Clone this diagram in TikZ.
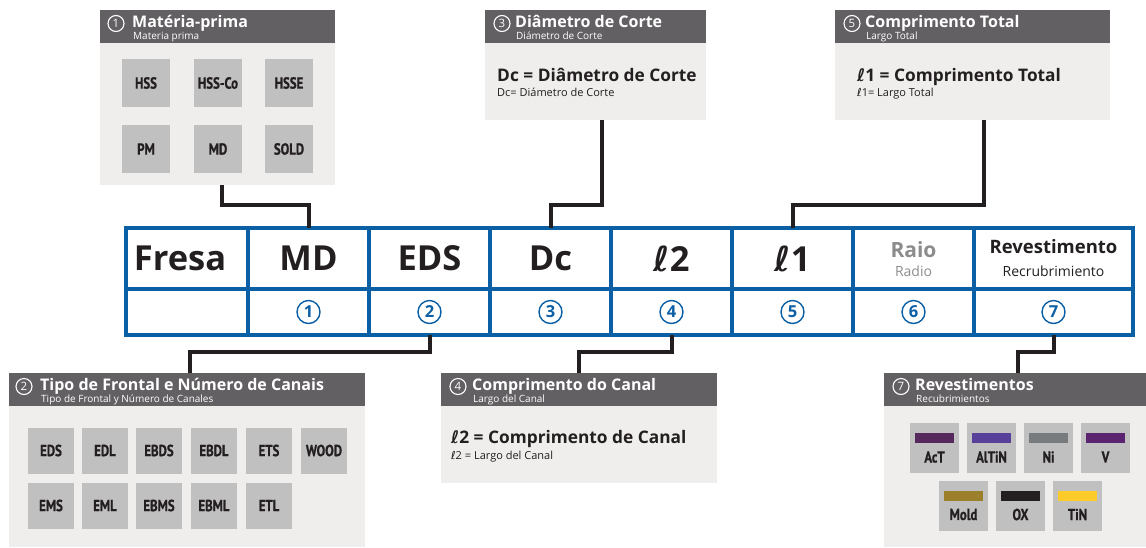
\documentclass[tikz,border=0pt]{standalone}
\usepackage{fontspec}
\setmainfont{Open Sans}
\newfontfamily\ellfont{DejaVu Sans}
\newfontfamily\condfont[FakeStretch=0.8, BoldFeatures={FakeBold=0.8}]{PT Sans}
\newcommand\myell{{\ellfont ℓ}}
\definecolor{tblue}{HTML}{0B5FA5}
\definecolor{hdr}{HTML}{636063}
\definecolor{pnl}{HTML}{EFEEEC}
\definecolor{sqg}{HTML}{C1C0C1}
\definecolor{ink}{HTML}{231F20}
\definecolor{raiog}{HTML}{8C8C8C}
\definecolor{cAcT}{HTML}{55295B}
\definecolor{cAlTiN}{HTML}{56409A}
\definecolor{cNi}{HTML}{787B7D}
\definecolor{cV}{HTML}{5C2371}
\definecolor{cMold}{HTML}{9C7F2B}
\definecolor{cOX}{HTML}{231F20}
\definecolor{cTiN}{HTML}{FECB2A}
\begin{document}
\begin{tikzpicture}[x=1pt,y=-1pt,
  panel/.style={fill=pnl, draw=none, inner sep=0, outer sep=0, rectangle, anchor=north west},
  hdrbar/.style={fill=hdr, inner sep=0, outer sep=0, minimum height=33pt, anchor=north},
  htitle/.style={text=white, font=\bfseries\fontsize{16}{17}\selectfont, anchor=base west, inner sep=0},
  hsub/.style={text=white, font=\fontsize{10}{11}\selectfont, anchor=base west, inner sep=0},
  hnum/.style={circle, draw=white, line width=1.1pt, minimum size=16pt, inner sep=0, text=white, font=\fontsize{11.5}{12}\selectfont},
  sq/.style={fill=sqg, inner sep=0, minimum width=48pt, minimum height=48pt, text=ink, font=\condfont\bfseries\fontsize{16}{16}\selectfont},
  sqb/.style={fill=sqg, inner sep=0, minimum width=46pt, minimum height=46pt, text=ink, font=\condfont\bfseries\fontsize{16}{16}\selectfont},
  sqc/.style={fill=sqg, inner sep=0, minimum width=49pt, minimum height=50pt},
  cbar/.style={inner sep=0, minimum width=39pt, minimum height=10pt, anchor=north},
  clabel/.style={text=ink, font=\condfont\bfseries\fontsize{16}{16}\selectfont, inner sep=0},
  ptmain/.style={text=ink, font=\bfseries\fontsize{17.3}{20}\selectfont, anchor=base west, inner sep=0},
  ptsub/.style={text=ink, font=\fontsize{11}{12}\selectfont, anchor=base west, inner sep=0},
  cell/.style={draw=tblue, line width=3.5pt, inner sep=0, outer sep=0, minimum height=61pt, text=ink, font=\bfseries\fontsize{34.5}{35}\selectfont},
  ncell/.style={draw=tblue, line width=3.5pt, inner sep=0, outer sep=0, minimum height=46pt},
  tnum/.style={circle, draw=tblue, line width=1.4pt, minimum size=23pt, inner sep=0, text=tblue, font=\bfseries\fontsize{16.5}{16.5}\selectfont},
  conn/.style={draw=ink, line width=4pt}
]
\useasboundingbox (0,0) rectangle (1146,547);

% ---------- Panel 1: Materia-prima ----------
\node[panel, minimum width=235pt, minimum height=175pt] (p1) at (100,10) {};
\node[hdrbar, minimum width=235pt] (h1) at (p1.north) {};
\node[hnum] (n1) at (116,23.5) {1};
\node[htitle] (t1a) at (132,27.5) {Matéria-prima};
\node[hsub] (t1b) at (133,39) {Materia prima};
\node[sq] (s11) at (146,83) {HSS};
\node[sq] (s12) at (218,83) {HSS-Co};
\node[sq] (s13) at (289,83) {HSSE};
\node[sq] (s14) at (146,149) {PM};
\node[sq] (s15) at (218,149) {MD};
\node[sq] (s16) at (289,149) {SOLD};

% ---------- Panel 3: Diametro de Corte ----------
\node[panel, minimum width=221pt, minimum height=110pt] (p3) at (485,10) {};
\node[hdrbar, minimum width=221pt] (h3) at (p3.north) {};
\node[hnum] (n3) at (502,23.5) {3};
\node[htitle] (t3a) at (515,27.5) {Diâmetro de Corte};
\node[hsub] (t3b) at (516,39) {Diámetro de Corte};
\node[ptmain] (m3) at (497,81) {Dc = Diâmetro de Corte};
\node[ptsub] (u3) at (497,96) {Dc= Diámetro de Corte};

% ---------- Panel 5: Comprimento Total ----------
\node[panel, minimum width=275pt, minimum height=110pt] (p5) at (835,10) {};
\node[hdrbar, minimum width=275pt] (h5) at (p5.north) {};
\node[hnum] (n5) at (852,23.5) {5};
\node[htitle] (t5a) at (865,27.5) {Comprimento Total};
\node[hsub] (t5b) at (866,39) {Largo Total};
\node[ptmain] (m5) at (857,81) {\myell1 = Comprimento Total};
\node[ptsub] (u5) at (857,96) {\myell1= Largo Total};

% ---------- Table ----------
\node[cell, minimum width=122pt] (c1) at (187,258.5) {};
\node[text=ink, font=\bfseries\fontsize{34.5}{35}\selectfont, inner sep=0] (fresa) at (180,258.5) {Fresa};
\node[cell, minimum width=121pt] (c2) at (308.5,258.5) {MD};
\node[cell, minimum width=121pt] (c3) at (429.5,258.5) {EDS};
\node[cell, minimum width=121pt] (c4) at (550.5,258.5) {Dc};
\node[cell, minimum width=121pt] (c5) at (671.5,258.5) {\myell2};
\node[cell, minimum width=121pt] (c6) at (792.5,258.5) {\myell1};
\node[cell, minimum width=121pt] (c7) at (913.5,258.5) {};
\node[cell, minimum width=159pt] (c8) at (1053.5,258.5) {};
\node[text=raiog, font=\bfseries\fontsize{21}{22}\selectfont, anchor=base, inner sep=0] (raio) at (913.5,257) {Raio};
\node[text=raiog, font=\fontsize{14}{15}\selectfont, anchor=base, inner sep=0] (radio) at (913.5,276) {Radio};
\node[text=ink, font=\bfseries\fontsize{18.5}{19}\selectfont, anchor=base, inner sep=0] (rev) at (1053.5,253) {Revestimento};
\node[text=ink, font=\fontsize{14}{15}\selectfont, anchor=base, inner sep=0] (recr) at (1053.5,276) {Recrubrimiento};

\node[ncell, minimum width=122pt] (b1) at (187,312) {};
\node[ncell, minimum width=121pt] (b2) at (308.5,312) {};
\node[ncell, minimum width=121pt] (b3) at (429.5,312) {};
\node[ncell, minimum width=121pt] (b4) at (550.5,312) {};
\node[ncell, minimum width=121pt] (b5) at (671.5,312) {};
\node[ncell, minimum width=121pt] (b6) at (792.5,312) {};
\node[ncell, minimum width=121pt] (b7) at (913.5,312) {};
\node[ncell, minimum width=159pt] (b8) at (1053.5,312) {};
\node[tnum] (k1) at (b2.center) {1};
\node[tnum] (k2) at (b3.center) {2};
\node[tnum] (k3) at (b4.center) {3};
\node[tnum] (k4) at (b5.center) {4};
\node[tnum] (k5) at (b6.center) {5};
\node[tnum] (k6) at (b7.center) {6};
\node[tnum] (k7) at (b8.center) {7};

% ---------- Panel 2: Tipo de Frontal ----------
\node[panel, minimum width=356pt, minimum height=174pt] (p2) at (9,373) {};
\node[hdrbar, minimum width=356pt] (h2) at (p2.north) {};
\node[hnum] (n2) at (24,386.5) {2};
\node[htitle] (t2a) at (40,390.5) {Tipo de Frontal e Número de Canais};
\node[hsub] (t2b) at (41,402) {Tipo de Frontal y Número de Canales};
\node[sqb] (s21) at (51,450.5) {EDS};
\node[sqb] (s22) at (105,450.5) {EDL};
\node[sqb] (s23) at (159,450.5) {EBDS};
\node[sqb] (s24) at (214,450.5) {EBDL};
\node[sqb] (s25) at (269,450.5) {ETS};
\node[sqb] (s26) at (324,450.5) {WOOD};
\node[sqb] (s27) at (51,505.5) {EMS};
\node[sqb] (s28) at (105,505.5) {EML};
\node[sqb] (s29) at (159,505.5) {EBMS};
\node[sqb] (s2a) at (214,505.5) {EBML};
\node[sqb] (s2b) at (269,505.5) {ETL};

% ---------- Panel 4: Comprimento do Canal ----------
\node[panel, minimum width=276pt, minimum height=110pt] (p4) at (441,373) {};
\node[hdrbar, minimum width=276pt] (h4) at (p4.north) {};
\node[hnum] (n4) at (458,386.5) {4};
\node[htitle] (t4a) at (472,390.5) {Comprimento do Canal};
\node[hsub] (t4b) at (473,402) {Largo del Canal};
\node[ptmain] (m4) at (451,443) {\myell2 = Comprimento de Canal};
\node[ptsub] (u4) at (451,459) {\myell2 = Largo del Canal};

% ---------- Panel 6: Revestimentos ----------
\node[panel, minimum width=262pt, minimum height=174pt] (p6) at (884,373) {};
\node[hdrbar, minimum width=262pt] (h6) at (p6.north) {};
\node[hnum] (n6) at (901,386.5) {7};
\node[htitle] (t6a) at (915,390.5) {Revestimentos};
\node[hsub] (t6b) at (916,402) {Recubrimientos};
\foreach \nm/\lab/\cx/\cy in {a1/AcT/934.5/448, a2/AlTiN/991.5/448, a3/Ni/1048.5/448, a4/V/1105.5/448, a5/Mold/963.5/505.5, a6/OX/1020.5/505.5, a7/TiN/1077.5/505.5}{
  \node[sqc] (\nm) at (\cx,\cy) {};
  \node[cbar, fill=c\lab] (\nm bar) at ([yshift=-10pt]\nm.north) {};
  \node[clabel] (\nm lab) at ([yshift=-9pt]\nm.center) {\lab};
}

% ---------- Connectors ----------
\draw[conn] ([xshift=4pt]p1.south) -- ++(0,20) -| (c2.north);
\draw[conn] ([xshift=6pt]p3.south) -- ++(0,85) -| (c4.north);
\draw[conn] ([xshift=11pt]p5.south) -- ++(0,85) -| (c6.north);
\draw[conn] (b3.south) -- ++(0,17) -| ([xshift=3pt]p2.north);
\draw[conn] (b5.south) -- ++(0,17) -| (p4.north);
\draw[conn] (b8.south) -- ++(0,17) -| ([xshift=3pt]p6.north);
\end{tikzpicture}
\end{document}
